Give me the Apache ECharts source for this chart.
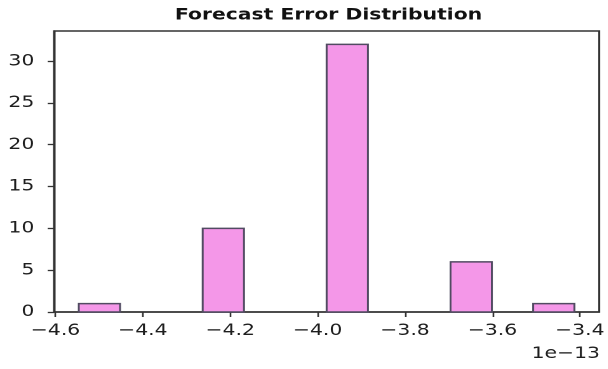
<!DOCTYPE html>
<html>
<head>
<meta charset="utf-8">
<style>
  html, body { margin: 0; padding: 0; background: #ffffff; overflow: hidden; }
  #wrap { width: 608px; height: 369px; overflow: hidden; }
  /* the figure is drawn narrow and widened horizontally, like the wide-aspect export it reproduces */
  #chart { width: 478.74px; height: 369px; transform: scaleX(1.27); transform-origin: 0 0; }
</style>
<script src="https://cdn.jsdelivr.net/npm/echarts@6/dist/echarts.min.js"></script>
</head>
<body>
<div id="wrap"><div id="chart"></div></div>
<script>
// Histogram of forecast errors (values in units of 1e-13)
const binStart = -4.5466;
const binWidth = 0.09452;
const counts = [1, 0, 0, 10, 0, 0, 32, 0, 0, 6, 0, 1];
const xTicks = [-4.6, -4.4, -4.2, -4.0, -3.8, -3.6, -3.4];
const yTicks = [0, 5, 10, 15, 20, 25, 30];
const xRange = [-4.6033, -3.3557];
const yRange = [0, 33.6];
const titleText = 'Forecast Error Distribution';
const offsetText = '1e\u221213';

const FONT = '"DejaVu Sans", sans-serif';
const INK = '#1e1e1e';
const SPINE = '#333333';

// each bin: [left edge, right edge, count]
const bins = counts.map((c, i) => [binStart + i * binWidth, binStart + (i + 1) * binWidth, c]);

const chart = echarts.init(document.getElementById('chart'), null, { renderer: 'canvas', devicePixelRatio: 2 });

chart.setOption({
  animation: false,
  backgroundColor: '#ffffff',
  grid: {
    left: 42.52, right: 3.94, top: 31, bottom: 57,
    show: true, borderColor: SPINE, borderWidth: 1.5, backgroundColor: 'transparent'
  },
  xAxis: {
    type: 'value',
    min: xRange[0], max: xRange[1],
    axisLine: { show: true, onZero: false, lineStyle: { color: SPINE, width: 1.5 } },
    axisTick: { show: true, customValues: xTicks, length: 5, lineStyle: { color: SPINE, width: 1.3 } },
    axisLabel: {
      customValues: xTicks, margin: 11, color: INK, fontFamily: FONT, fontSize: 16,
      formatter: v => v.toFixed(1).replace('-', '\u2212')
    },
    splitLine: { show: false }
  },
  yAxis: {
    type: 'value',
    min: yRange[0], max: yRange[1],
    axisLine: { show: true, lineStyle: { color: SPINE, width: 1.5 } },
    axisTick: { show: true, customValues: yTicks, length: 5, lineStyle: { color: SPINE, width: 1.3 } },
    axisLabel: {
      customValues: yTicks, margin: 15.5, color: INK, fontFamily: FONT, fontSize: 16,
      formatter: v => String(Math.round(v))
    },
    splitLine: { show: false }
  },
  series: [{
    type: 'custom',
    data: bins,
    encode: { x: [0, 1], y: 2 },
    renderItem: (params, api) => {
      const h = api.value(2);
      if (!h) return null;
      const p0 = api.coord([api.value(0), h]);
      const p1 = api.coord([api.value(1), 0]);
      return {
        type: 'rect',
        shape: { x: p0[0], y: p0[1], width: p1[0] - p0[0], height: p1[1] - p0[1] },
        style: { fill: '#f497e8', stroke: '#514b62', lineWidth: 1.5 }
      };
    }
  }],
  graphic: [
    {
      type: 'text', x: 258.7, y: 7.5,
      style: { text: titleText, fill: '#111111', font: 'bold 16px "DejaVu Sans", sans-serif', textAlign: 'center', textVerticalAlign: 'top' }
    },
    {
      type: 'text', x: 472.4, y: 346,
      style: { text: offsetText, fill: INK, font: '16px "DejaVu Sans", sans-serif', textAlign: 'right', textVerticalAlign: 'top' }
    }
  ]
});
</script>
</body>
</html>
